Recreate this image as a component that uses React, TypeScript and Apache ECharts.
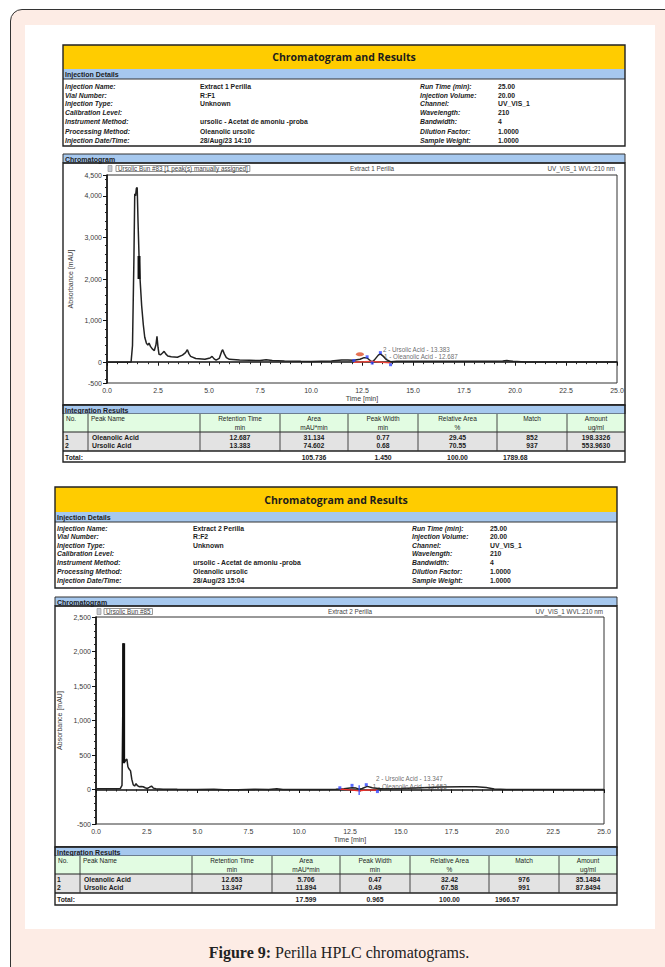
import React, { useEffect, useRef } from "react";
import * as echarts from "echarts";

// ---------- data ----------
const Y1_LABELS = [-500, 0, 1000, 2000, 3000, 4000, 4500];
const Y1_MINOR = [-400, -200, 200, 400, 600, 800, 1200, 1400, 1600, 1800, 2200, 2400, 2600, 2800, 3200, 3400, 3600, 3800, 4200, 4400];
const Y2_LABELS = [-500, 0, 500, 1000, 1500, 2000, 2500];

const CHROM1: number[][] = [
  [0, 0], [0.5, 0], [1.0, 0], [1.18, 2], [1.25, 400], [1.32, 2500], [1.36, 4050], [1.4, 4000], [1.44, 4180], [1.48, 4200],
  [1.52, 3400], [1.57, 2550], [1.62, 2000], [1.7, 1350], [1.78, 900], [1.85, 600], [1.93, 460], [2.0, 410], [2.06, 460],
  [2.13, 380], [2.22, 320], [2.32, 280], [2.4, 420], [2.45, 620], [2.5, 360], [2.55, 190], [2.63, 180], [2.72, 220],
  [2.8, 260], [2.88, 200], [2.98, 150], [3.15, 130], [3.45, 120], [3.7, 170], [3.85, 230], [3.94, 300], [4.02, 200],
  [4.1, 140], [4.35, 90], [4.8, 70], [5.05, 100], [5.15, 140], [5.25, 80], [5.35, 50], [5.5, 90], [5.62, 260], [5.67, 300],
  [5.75, 200], [5.85, 110], [6.0, 70], [6.5, 50], [7.0, 45], [7.5, 40], [7.8, 60], [8.1, 40], [8.7, 30], [9.5, 20],
  [10.0, 15], [10.5, 25], [11.0, 30], [11.5, 50], [11.8, 55], [12.1, 45], [12.4, 70], [12.6, 110], [12.75, 100],
  [12.9, 40], [13.0, 10], [13.1, 50], [13.3, 170], [13.4, 200], [13.55, 140], [13.7, 60], [13.9, 10], [14.2, 20],
  [15.0, 25], [16.0, 25], [17.0, 20], [18.0, 20], [19.0, 20], [19.4, 30], [19.6, 40], [19.9, 20], [20.5, 5], [22.0, 5],
  [23.5, 5], [25.0, 5],
];
const SPIKE1: number[][] = [[1.57, 2000], [1.57, 2550]];
const BASE1: number[][] = [[12.1, 0], [12.6, 10], [13.0, 20], [13.5, 0], [13.9, -15]];
const MARKERS1: number[][] = [[12.1, 40], [12.75, 130], [13.0, -20], [13.4, 230], [13.9, -60]];
const BLOB1: number[][] = [[12.4, 190]];
const PEAK_LABELS_1 = [
  { t: 13.45, v: 300, text: "2 - Ursolic Acid - 13.383" },
  { t: 13.5, v: 130, text: "1 - Oleanolic Acid - 12.687" },
];

const CHROM2: number[][] = [
  [0, 10], [0.5, 12], [1.0, 10], [1.2, 15], [1.28, 60], [1.32, 1200], [1.35, 2120], [1.37, 1500], [1.39, 450], [1.42, 400],
  [1.47, 430], [1.52, 440], [1.57, 330], [1.62, 300], [1.7, 270], [1.76, 150], [1.83, 70], [1.9, 50], [1.97, 85], [2.04, 55],
  [2.12, 40], [2.22, 45], [2.32, 40], [2.42, 25], [2.52, 15], [2.62, 30], [2.73, 50], [2.82, 20], [2.95, 10], [3.3, 5],
  [4.0, 2], [5.0, 0], [5.8, 5], [6.3, -5], [7.0, -2], [7.8, 2], [8.5, 0], [8.9, 12], [9.2, 0], [10.0, 0], [11.0, 0],
  [11.8, 5], [12.2, 12], [12.6, 25], [12.8, 20], [12.95, 5], [13.1, 15], [13.35, 45], [13.6, 25], [14.0, 12], [15.0, 15],
  [16.0, 25], [17.0, 35], [18.0, 40], [18.7, 40], [19.2, 28], [19.6, 8], [20.2, 0], [21.0, 0], [23.0, 0], [25.0, 0],
];
const SPIKE2: number[][] = [[1.36, 380], [1.36, 2120]];
const BASE2: number[][] = [[12.0, 5], [12.5, -5], [12.95, -20], [13.4, -5], [13.85, -10]];
const MARKERS2: number[][] = [[12.0, 25], [12.6, 60], [13.3, 70], [13.85, -30]];
const VBAR2: number[][] = [[12.95, -80], [12.95, 60]];
const PEAK_LABELS_2 = [
  { t: 13.55, v: 45, text: "1 - Oleanolic Acid - 12.653" },
  { t: 13.7, v: 160, text: "2 - Ursolic Acid - 13.347" },
];

const DETAIL_LABELS = ["Injection Name:", "Vial Number:", "Injection Type:", "Calibration Level:", "Instrument Method:", "Processing Method:", "Injection Date/Time:"];
const DETAIL_VALUES_1 = ["Extract 1 Perilla", "R:F1", "Unknown", "", "ursolic - Acetat de amoniu -proba", "Oleanolic ursolic", "28/Aug/23 14:10"];
const DETAIL_VALUES_2 = ["Extract 2 Perilla", "R:F2", "Unknown", "", "ursolic - Acetat de amoniu -proba", "Oleanolic ursolic", "28/Aug/23 15:04"];
const RIGHT_LABELS = ["Run Time (min):", "Injection Volume:", "Channel:", "Wavelength:", "Bandwidth:", "Dilution Factor:", "Sample Weight:"];
const RIGHT_VALUES = ["25.00", "20.00", "UV_VIS_1", "210", "4", "1.0000", "1.0000"];

const TABLE_HEAD_TOP = ["No.", "Peak Name", "Retention Time", "Area", "Peak Width", "Relative Area", "Match", "Amount"];
const TABLE_HEAD_UNIT = ["", "", "min", "mAU*min", "min", "%", "", "ug/ml"];
const PEAK_NAMES = ["Oleanolic Acid", "Ursolic Acid"];
const RESULTS_1 = [
  ["12.687", "31.134", "0.77", "29.45", "852", "198.3326"],
  ["13.383", "74.602", "0.68", "70.55", "937", "553.9630"],
];
const TOTAL_1 = ["105.736", "1.450", "100.00", "1789.68"];
const RESULTS_2 = [
  ["12.653", "5.706", "0.47", "32.42", "976", "35.1484"],
  ["13.347", "11.894", "0.49", "67.58", "991", "87.8494"],
];
const TOTAL_2 = ["17.599", "0.965", "100.00", "1966.57"];

const RUN_1 = "Ursolic Bun #83 [1 peak(s) manually assigned]";
const RUN_2 = "Ursolic Bun #85";
const SAMPLE_1 = "Extract 1 Perilla";
const SAMPLE_2 = "Extract 2 Perilla";
const CHANNEL = "UV_VIS_1 WVL:210 nm";

// ---------- layout ----------
const FONT = '"Liberation Sans", Arial, sans-serif';
const YELLOW = "#ffcc00";
const BLUE = "#a6c8ee";
const GREEN = "#e2fce2";
const GREY = "#e3e3e3";
const INK = "#1c1c1c";

function txt(text: string, x: number, y: number, o: any = {}) {
  const font = `${o.italic ? "italic " : ""}${o.bold === false ? "" : "bold "}${o.size || 7}px ${o.family || FONT}`;
  const style: any = {
    text, x: 0, y: 0, fill: o.fill || INK, font,
    textAlign: o.align || "left", textVerticalAlign: "middle",
    align: o.align || "left", verticalAlign: "middle",
  };
  if (o.border) { style.borderColor = o.border; style.borderWidth = 0.8; style.padding = [0, 2, 0, 2]; }
  if (o.rich) style.rich = o.rich;
  return { type: "text", x, y, silent: true, style };
}
function rect(x: number, y: number, w: number, h: number, fill: string, stroke?: string, lw = 1) {
  return { type: "rect", silent: true, shape: { x, y, width: w, height: h }, style: { fill, stroke: stroke || null, lineWidth: lw } };
}
function line(x1: number, y1: number, x2: number, y2: number, stroke = "#333", lw = 1) {
  return { type: "line", silent: true, shape: { x1, y1, x2, y2 }, style: { stroke, lineWidth: lw } };
}

const PANELS = [
  {
    x: 63, w: 562, yTop: 45, yYellow: 69, yBlue: 79, yBox: 146, rows: [86, 95, 103.5, 112, 121.5, 131, 140],
    valX: 200, rlX: 420, rvX: 498, chromTop: 154, frameTop: 163, frameBot: 405, integBar: 414, headBot: 432, dataBot: 451, totBot: 462,
    cols: [88, 200, 280, 348, 418, 497, 567], values: DETAIL_VALUES_1, results: RESULTS_1, total: TOTAL_1,
    run: RUN_1, sample: SAMPLE_1, sampleX: 372, chanX: 615, iconX: 108, runX: 116,
  },
  {
    x: 55, w: 562, yTop: 487, yYellow: 512, yBlue: 522, yBox: 588, rows: [528, 536.5, 545, 553.5, 562.5, 571.5, 580],
    valX: 193, rlX: 412, rvX: 490, chromTop: 597, frameTop: 606, frameBot: 847, integBar: 856, headBot: 874, dataBot: 893, totBot: 905,
    cols: [80, 192, 272, 340, 410, 489, 559], values: DETAIL_VALUES_2, results: RESULTS_2, total: TOTAL_2,
    run: RUN_2, sample: SAMPLE_2, sampleX: 350, chanX: 603, iconX: 97, runX: 104,
  },
];

function panelGraphics(p: any) {
  const els: any[] = [];
  const right = p.x + p.w;
  // header
  els.push(rect(p.x, p.yTop, p.w, p.yYellow - p.yTop, YELLOW));
  els.push(txt("Chromatogram and Results", p.x + p.w / 2, (p.yTop + p.yYellow) / 2, { size: 10.5, family: '"Open Sans", sans-serif', align: "center" }));
  els.push(rect(p.x, p.yYellow, p.w, p.yBlue - p.yYellow, BLUE));
  els.push(txt("Injection Details", p.x + 2, (p.yYellow + p.yBlue) / 2, { size: 7 }));
  els.push(line(p.x, p.yBlue, right, p.yBlue, "#333", 1));
  els.push(rect(p.x, p.yTop, p.w, p.yBox - p.yTop, "none", "#222", 1.4));
  p.rows.forEach((y: number, i: number) => {
    els.push(txt(DETAIL_LABELS[i], p.x + 2, y, { italic: true, size: 6.8 }));
    if (p.values[i]) els.push(txt(p.values[i], p.valX, y, { size: 6.8 }));
    els.push(txt(RIGHT_LABELS[i], p.rlX, y, { italic: true, size: 6.8 }));
    els.push(txt(RIGHT_VALUES[i], p.rvX, y, { size: 6.8 }));
  });
  // chromatogram bar + frame
  els.push(rect(p.x, p.chromTop, p.w, p.frameTop - p.chromTop, BLUE, "#333", 1));
  els.push(txt("Chromatogram", p.x + 2, (p.chromTop + p.frameTop) / 2 + 0.5, { size: 7 }));
  els.push(rect(p.x, p.frameTop, p.w, p.frameBot - p.frameTop, "none", "#222", 1.4));
  els.push(rect(p.iconX, p.frameTop + 2.5, 4, 6, "#c8ccd4", "#888", 0.6));
  els.push(txt(p.run, p.runX, p.frameTop + 5.5, { bold: false, size: 6.3, fill: "#444", border: "#777" }));
  els.push(txt(p.sample, p.sampleX, p.frameTop + 5.5, { bold: false, size: 6.3, fill: "#444", align: "center" }));
  els.push(txt(CHANNEL, p.chanX, p.frameTop + 5.5, { bold: false, size: 6.3, fill: "#444", align: "right" }));
  // integration results
  els.push(rect(p.x, p.frameBot, p.w, p.integBar - p.frameBot, BLUE, "#333", 1));
  els.push(txt("Integration Results", p.x + 2, (p.frameBot + p.integBar) / 2 + 0.5, { size: 7 }));
  els.push(rect(p.x, p.integBar, p.w, p.headBot - p.integBar, GREEN));
  els.push(rect(p.x, p.headBot, p.w, p.dataBot - p.headBot, GREY));
  els.push(rect(p.x, p.dataBot, p.w, p.totBot - p.dataBot, "#ffffff"));
  els.push(line(p.x, p.headBot, right, p.headBot, "#222", 1));
  els.push(line(p.x, p.dataBot, right, p.dataBot, "#222", 1.4));
  p.cols.forEach((cx: number) => els.push(line(cx, p.integBar, cx, p.dataBot, "#333", 0.9)));
  els.push(rect(p.x, p.frameBot, p.w, p.totBot - p.frameBot, "none", "#222", 1.4));
  const edges = [p.x, ...p.cols, right];
  const centers = edges.slice(0, -1).map((e: number, i: number) => (e + edges[i + 1]) / 2);
  TABLE_HEAD_TOP.forEach((h, i) => {
    if (i < 2) els.push(txt(h, edges[i] + 3, p.integBar + 4.5, { bold: false, size: 6.5 }));
    else els.push(txt(h, centers[i], p.integBar + 4.5, { bold: false, size: 6.5, align: "center" }));
    if (TABLE_HEAD_UNIT[i]) els.push(txt(TABLE_HEAD_UNIT[i], centers[i], p.integBar + 13.5, { bold: false, size: 6.5, align: "center" }));
  });
  const r1 = p.headBot + 5.5;
  const r2 = p.headBot + 13.5;
  [r1, r2].forEach((y, ri) => {
    els.push(txt(String(ri + 1), p.x + 2, y, { size: 6.8 }));
    els.push(txt(PEAK_NAMES[ri], edges[1] + 4, y, { size: 6.8 }));
    p.results[ri].forEach((v: string, ci: number) => els.push(txt(v, centers[ci + 2], y, { size: 6.8, align: "center" })));
  });
  const ty = (p.dataBot + p.totBot) / 2 + 0.5;
  els.push(txt("Total:", p.x + 2, ty, { size: 6.8 }));
  els.push(txt(p.total[0], centers[3], ty, { size: 6.8, align: "center" }));
  els.push(txt(p.total[1], centers[4], ty, { size: 6.8, align: "center" }));
  els.push(txt(p.total[2], centers[5], ty, { size: 6.8, align: "center" }));
  els.push(txt(p.total[3], edges[6] + 6, ty, { size: 6.8 }));
  return els;
}

const AXIS_TEXT = { fontSize: 7, color: "#3a3a3a", fontFamily: FONT };

function xAxisCfg(gridIndex: number) {
  return {
    type: "value", gridIndex, min: 0, max: 25, interval: 2.5,
    name: "Time [min]", nameLocation: "middle", nameGap: 12, nameTextStyle: { ...AXIS_TEXT },
    axisLine: { lineStyle: { color: "#111", width: 1.6 } },
    axisTick: { length: 3.5, lineStyle: { color: "#111" } },
    minorTick: { show: true, splitNumber: 5, length: 2, lineStyle: { color: "#222" } },
    axisLabel: { ...AXIS_TEXT, margin: 4, formatter: (v: number) => v.toFixed(1) },
    splitLine: { show: false },
  };
}
const fmtY = (v: number) => v.toLocaleString("en-US");

function lineSeries(data: number[][], idx: number, color: string, width: number, z = 3) {
  return {
    type: "line", xAxisIndex: idx, yAxisIndex: idx, data, showSymbol: false, symbol: "none",
    lineStyle: { color, width }, z, silent: true,
  };
}
function markerSeries(data: number[][], idx: number) {
  return {
    type: "scatter", xAxisIndex: idx, yAxisIndex: idx, data, symbol: "rect", symbolSize: 3,
    itemStyle: { color: "#2f45ff" }, z: 5, silent: true,
  };
}
function labelSeries(labels: any[], idx: number) {
  return {
    type: "scatter", xAxisIndex: idx, yAxisIndex: idx, symbolSize: 1, itemStyle: { color: "rgba(0,0,0,0)" },
    data: labels.map((l) => ({ value: [l.t, l.v], name: l.text })), z: 6, silent: true,
    label: { show: true, position: "right", distance: 1, formatter: (p: any) => p.name, fontSize: 6.3, color: "#444", fontFamily: FONT },
  };
}

export default function App() {
  const ref = useRef<HTMLDivElement>(null);
  useEffect(() => {
    document.body.style.margin = "0";
    if (!ref.current) return;
    const chart = echarts.init(ref.current, null, { renderer: "svg" });
    const graphics = [...panelGraphics(PANELS[0]), ...panelGraphics(PANELS[1])];
    graphics.push(txt("{b|Figure 9:} Perilla HPLC chromatograms.", 339, 952, {
      bold: false, size: 16, family: '"Liberation Serif", serif', align: "center", fill: "#222",
      rich: { b: { fontWeight: "bold", fontSize: 16, fontFamily: '"Liberation Serif", serif', fill: "#222", color: "#222" } },
    }));
    const option: any = {
      animation: false,
      grid: [
        { left: 107, top: 175, width: 510, height: 208, show: true, borderColor: "#333", borderWidth: 1, backgroundColor: "transparent" },
        { left: 96, top: 617, width: 508, height: 207, show: true, borderColor: "#333", borderWidth: 1, backgroundColor: "transparent" },
      ],
      xAxis: [xAxisCfg(0), xAxisCfg(1)],
      yAxis: [
        {
          type: "value", gridIndex: 0, min: -500, max: 4500, position: "left",
          name: "Absorbance [mAU]", nameLocation: "middle", nameGap: 32, nameTextStyle: { ...AXIS_TEXT },
          axisLine: { show: true, lineStyle: { color: "#111", width: 1.6 } },
          axisTick: { show: true, length: 4, customValues: Y1_LABELS, lineStyle: { color: "#111" } },
          axisLabel: { ...AXIS_TEXT, margin: 5, customValues: Y1_LABELS, formatter: fmtY },
          splitLine: { show: false },
        },
        {
          type: "value", gridIndex: 1, min: -500, max: 2500, interval: 500, position: "left",
          name: "Absorbance [mAU]", nameLocation: "middle", nameGap: 30, nameTextStyle: { ...AXIS_TEXT },
          axisLine: { show: true, lineStyle: { color: "#111", width: 1.6 } },
          axisTick: { show: true, length: 4, lineStyle: { color: "#111" } },
          minorTick: { show: true, splitNumber: 5, length: 2, lineStyle: { color: "#222" } },
          axisLabel: { ...AXIS_TEXT, margin: 5, formatter: fmtY },
          splitLine: { show: false },
        },
        {
          type: "value", gridIndex: 0, min: -500, max: 4500, position: "left",
          axisLine: { show: false }, axisLabel: { show: false }, splitLine: { show: false },
          axisTick: { show: true, length: 2, customValues: Y1_MINOR, lineStyle: { color: "#222" } },
        },
      ],
      series: [
        lineSeries(CHROM1, 0, "#222", 1.5),
        lineSeries(SPIKE1, 0, "#111", 3),
        lineSeries(BASE1, 0, "#f0443a", 1.4, 4),
        markerSeries(MARKERS1, 0),
        {
          type: "scatter", xAxisIndex: 0, yAxisIndex: 0, data: BLOB1, symbol: "circle", symbolSize: [8, 4],
          itemStyle: { color: "#e0502a" }, z: 5, silent: true,
        },
        labelSeries(PEAK_LABELS_1, 0),
        lineSeries(CHROM2, 1, "#222", 1.5),
        lineSeries(SPIKE2, 1, "#111", 3),
        lineSeries(BASE2, 1, "#f0302a", 1.4, 4),
        lineSeries(VBAR2, 1, "#2f45ff", 1.2, 5),
        markerSeries(MARKERS2, 1),
        labelSeries(PEAK_LABELS_2, 1),
      ],
      graphic: { elements: graphics },
    };
    chart.setOption(option);
    return () => chart.dispose();
  }, []);

  return (
    <div style={{ position: "relative", width: 665, height: 967, background: "#ffffff", overflow: "hidden" }}>
      <div style={{ position: "absolute", left: 10, top: 9, width: 700, height: 1000, border: "1.5px solid #333", borderRadius: 12, background: "#fdece5", boxSizing: "border-box" }} />
      <div style={{ position: "absolute", left: 25, top: 25, width: 630, height: 904, background: "#ffffff" }} />
      <div ref={ref} style={{ position: "absolute", left: 0, top: 0, width: 665, height: 967 }} />
    </div>
  );
}
